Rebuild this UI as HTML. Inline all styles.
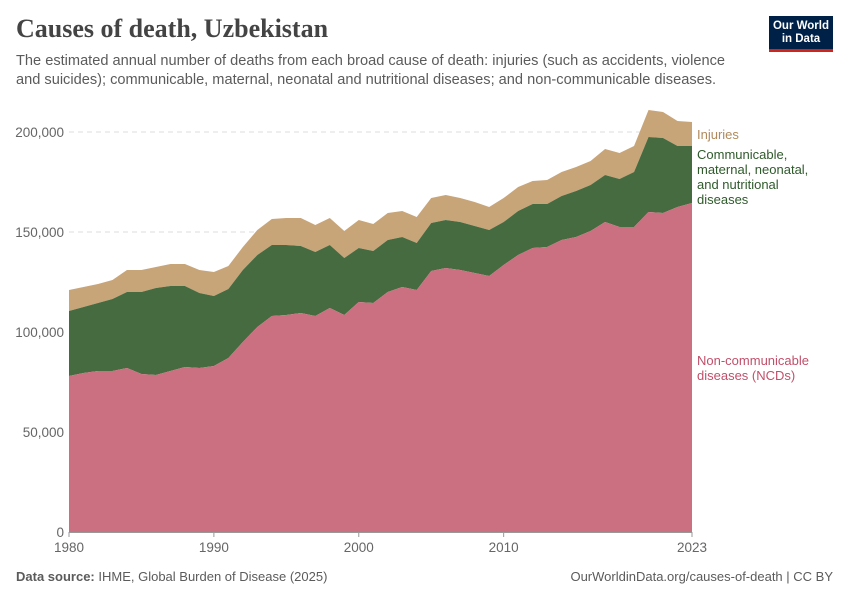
<!DOCTYPE html>
<html><head><meta charset="utf-8"><style>
body{margin:0;background:#fff;font-family:"Liberation Sans",sans-serif;}
#wrap{position:relative;width:850px;height:600px;overflow:hidden;}
.t{position:absolute;}
</style></head><body>
<div id="wrap">
<div class="t" style="left:16px;top:14px;font-family:'Liberation Serif',serif;font-size:26px;font-weight:bold;color:#444;">Causes of death, Uzbekistan</div>
<div class="t" style="left:16px;top:52px;width:730px;font-size:14.6px;line-height:19px;color:#5b5b5b;">The estimated annual number of deaths from each broad cause of death: injuries (such as accidents, violence and suicides); communicable, maternal, neonatal and nutritional diseases; and non-communicable diseases.</div>
<div class="t" style="left:769px;top:16px;width:64px;height:36px;background:#002147;border-bottom:3px solid #ce261e;box-sizing:border-box;color:#fff;font-size:11.5px;line-height:13px;text-align:center;padding-top:4px;font-weight:bold;">Our World<br>in Data</div>
<svg id="chart" class="t" style="left:0;top:0" width="850" height="600"></svg>
<div class="t" style="left:16px;top:569px;font-size:13px;color:#5b5b5b;"><b>Data source:</b> IHME, Global Burden of Disease (2025)</div>
<div class="t" style="right:17px;top:569px;font-size:13px;color:#5b5b5b;">OurWorldinData.org/causes-of-death | CC BY</div>
</div>
<script>
const years=[];for(let y=1980;y<=2023;y++)years.push(y);
const ncd=[78,79.5,80.5,80.5,82,79,78.5,80.5,82.5,82,83,87,95,102.5,108,108.5,109.5,108,112,108.5,115,114.5,120,122.5,121,130.5,132,131,129.5,128,133.5,138.5,142,142.5,146,147.5,150.5,155,152.5,152.5,160,159.5,162.5,164.5];
const comm=[32.5,33,34,36,38,41,43.5,42.5,40.5,37.5,35,34.5,36,36,35.5,35,33.5,32,31.5,28.5,27,26,26,25,23.5,24,24,24,23.5,23,21.5,22,22,21.5,22,23,23,23.5,24,27.5,37.5,37.5,30.5,28.5];
const inj=[10.5,10,9.5,9.5,11,11,10.5,11,11,11.5,12,11.5,11.5,12.5,13,13.5,14,13.5,13.5,13.5,14,13.5,13.5,13,13,12.5,12.5,12,12,11.5,12,12,11.5,12,12,12,12,13,13,13,13.5,13,12.5,12];
const yTicks=[0,50000,100000,150000,200000];
const yTickLabels=["0","50,000","100,000","150,000","200,000"];
const xTicks=[1980,1990,2000,2010,2023];
const NS="http://www.w3.org/2000/svg";
const svg=document.getElementById('chart');
const x=v=>69+(v-1980)*(692-69)/43;
const y=v=>532-v*400/200000;
function mk(t,a){const e=document.createElementNS(NS,t);for(const k in a)e.setAttribute(k,a[k]);svg.appendChild(e);return e;}
yTicks.forEach((v,i)=>{
  if(v>0){const g=mk('line',{x1:69,x2:692,y1:y(v),y2:y(v),stroke:'#ddd','stroke-dasharray':'5,4'});
  
  }
  const t=mk('text',{x:64,y:y(v)+5,'text-anchor':'end','font-size':13.5,fill:'#666','font-family':'Liberation Sans'});
  t.textContent=yTickLabels[i];
  
  
});
const s1=ncd.map(v=>v*1000),s2=ncd.map((v,i)=>(v+comm[i])*1000),s3=ncd.map((v,i)=>(v+comm[i]+inj[i])*1000);
function area(top,bot,fill,name){
  let d='M'+years.map((yr,i)=>x(yr)+','+y(top[i])).join('L');
  for(let i=years.length-1;i>=0;i--)d+='L'+x(years[i])+','+y(bot?bot[i]:0);
  const p=mk('path',{d:d+'Z',fill:fill});
  
  
}
area(s3,s2,'#c8a479','area-injuries');
area(s2,s1,'#476b40','area-communicable');
area(s1,null,'#cb7080','area-ncds');
const ax=mk('line',{x1:69,x2:692,y1:532.5,y2:532.5,stroke:'#999'});


xTicks.forEach(v=>{
  const tk=mk('line',{x1:x(v),x2:x(v),y1:532,y2:537,stroke:'#999'});
  
  
  const t=mk('text',{x:x(v),y:552,'text-anchor':'middle','font-size':13.5,fill:'#666','font-family':'Liberation Sans'});
  t.textContent=v;
  
  
});
function lbl(lines,ty,col,name){
  const t=mk('text',{x:697,y:ty,'font-size':13,fill:col,'font-family':'Liberation Sans'});
  lines.forEach((l,i)=>{const s=document.createElementNS(NS,'tspan');s.setAttribute('x',697);s.setAttribute('dy',i?15:0);s.textContent=l;t.appendChild(s);});
  
  
}
lbl(['Injuries'],139,'#b08a5c','legend-injuries');
lbl(['Communicable,','maternal, neonatal,','and nutritional','diseases'],159,'#2f5a2b','legend-communicable');
lbl(['Non-communicable','diseases (NCDs)'],365,'#c0506a','legend-ncds');
</script>
</body></html>
